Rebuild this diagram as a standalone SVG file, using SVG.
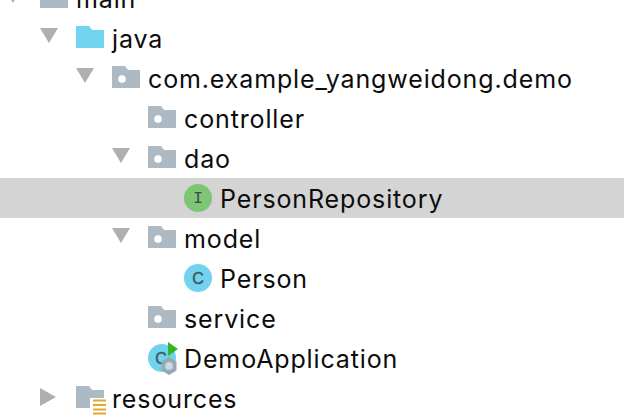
<svg xmlns="http://www.w3.org/2000/svg" width="624" height="420" viewBox="0 0 624 420">
<style>
text{font-family:Inter,"Noto Sans",sans-serif;font-size:25px;letter-spacing:.87px;fill:#0c0c0c}
.tri{fill:#afafaf}
.pk{fill:#aebac3}
.dot{fill:#fff}
text.glyph{font-family:"Liberation Mono",monospace;font-size:17px;letter-spacing:0;fill:#3f4a50;text-anchor:middle}
text.c{font-family:"Liberation Sans",sans-serif;font-size:16px;letter-spacing:0;fill:#3f5866;stroke:#3f5866;stroke-width:.5px;text-anchor:middle}
</style>
<defs>
<path id="folder" d="M0 0H13L16 4H28V22H0Z"/>
<g id="pkg"><use href="#folder" class="pk"/><circle class="dot" cx="10" cy="13" r="3.800"/></g>
<path id="down" d="M0 0H18L9 15Z"/>
</defs>
<rect x="0" y="178" width="624" height="40" fill="#d4d4d4"/>
<g id="connectors"></g>
<g id="main"><use href="#down" class="tri" x="4" y="-12"/><use href="#folder" class="pk" x="40" y="-14"/><text x="76" y="8">main</text></g>
<g id="java"><use href="#down" class="tri" x="40" y="28"/><use href="#folder" x="76" y="26" fill="#72d3ef"/><text x="112" y="48">java</text></g>
<g id="com"><use href="#down" class="tri" x="76" y="68"/><use href="#pkg" x="112" y="66"/><text x="148" y="88">com.example_yangweidong.demo</text></g>
<g id="controller"><use href="#pkg" x="148" y="106"/><text x="184" y="128">controller</text></g>
<g id="dao"><use href="#down" class="tri" x="112" y="148"/><use href="#pkg" x="148" y="146"/><text x="184" y="168">dao</text></g>
<g id="PersonRepository"><circle cx="198" cy="198" r="14" fill="#7ec576"/><text class="glyph" x="198" y="203">I</text><text x="220" y="208">PersonRepository</text></g>
<g id="model"><use href="#down" class="tri" x="112" y="228"/><use href="#pkg" x="148" y="226"/><text x="184" y="248">model</text></g>
<g id="Person"><circle cx="198" cy="278" r="14" fill="#72d3ef"/><text class="c" x="198" y="284">C</text><text x="220" y="288">Person</text></g>
<g id="service"><use href="#pkg" x="148" y="306"/><text x="184" y="328">service</text></g>
<g id="DemoApplication"><circle cx="162" cy="358" r="14" fill="#72d3ef"/><text class="c" x="161" y="364">C</text>
<path d="M168 342L178 349L168 356Z" fill="#35b51e"/>
<path d="M169 357L176.500 361.500V370.500L169 375L161.500 370.500V361.500Z" fill="#9aa7b0"/><circle cx="169" cy="366" r="4.500" fill="#cfd8de" stroke="#8fb4c8" stroke-width="1.500"/>
<text x="184" y="368">DemoApplication</text></g>
<g id="resources"><path class="tri" d="M40 388L56 397L40 406Z"/><use href="#folder" class="pk" x="76" y="386"/><rect x="90" y="398" width="16" height="16" fill="#fff"/><path d="M93 400.500H106M93 405H106M93 409.500H106M93 413.500H106" stroke="#e2a72e" stroke-width="2.200"/><text x="112" y="408">resources</text></g>
</svg>
